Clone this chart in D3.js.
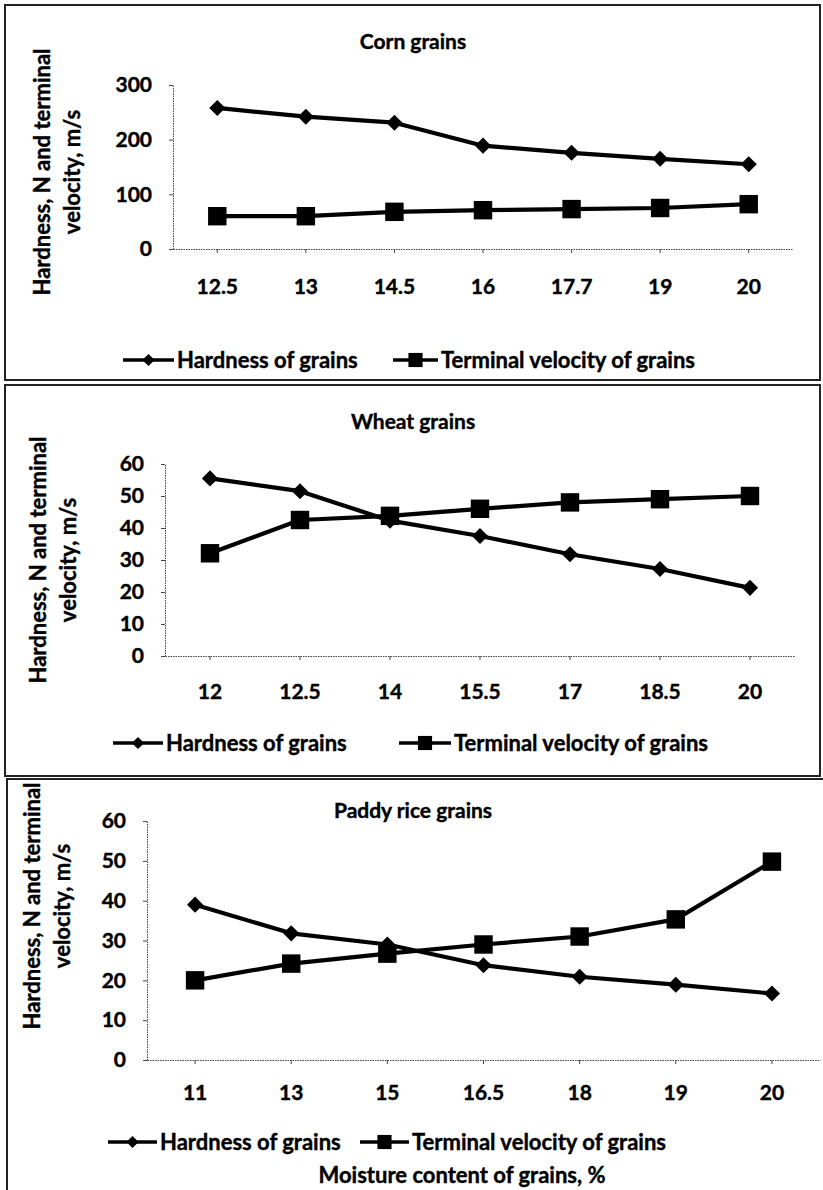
<!DOCTYPE html>
<html>
<head>
<meta charset="utf-8">
<script src="https://cdn.jsdelivr.net/npm/d3@7"></script>
<style>
  body { margin: 0; background: #fff; }
  text { font-family: Lato, "Open Sans", sans-serif; font-weight: bold; fill: #000; stroke: #000; stroke-width: 0.4px; }
</style>
</head>
<body>
<svg id="chart" width="823" height="1190"></svg>
<script>
// moisture content (x categories) and the two series of each crop
var cornMoisture = ["12.5", "13", "14.5", "16", "17.7", "19", "20"];
var cornHardness = [258, 242, 231, 189, 176, 165, 155];
var cornVelocity = [60, 60, 68, 71, 73, 75, 82];
var cornTicks = [0, 100, 200, 300];

var wheatMoisture = ["12", "12.5", "14", "15.5", "17", "18.5", "20"];
var wheatHardness = [55.5, 51.5, 42.3, 37.5, 31.8, 27.2, 21.3];
var wheatVelocity = [32.1, 42.5, 43.8, 46, 48, 49, 50];
var wheatTicks = [0, 10, 20, 30, 40, 50, 60];

var riceMoisture = ["11", "13", "15", "16.5", "18", "19", "20"];
var riceHardness = [39, 31.8, 29, 23.8, 20.9, 18.9, 16.7];
var riceVelocity = [20, 24.2, 26.7, 29, 31, 35.3, 49.8];
var riceTicks = [0, 10, 20, 30, 40, 50, 60];

var seriesNames = ["Hardness of grains", "Terminal velocity of grains"];
var yTitleLines = ["Hardness, N and terminal", "velocity, m/s"];

var svg = d3.select("#chart");

var panels = [
  { title: "Corn grains", cats: cornMoisture, hard: cornHardness, vel: cornVelocity, ticks: cornTicks,
    box: [5, 5, 815, 375], titleY: 49, left: 173, right: 793, top: 85, bottom: 249, xPad: 26,
    legendY: 360, leg: [123, 174, 393, 438], yTitle: [42, 72, 172] },
  { title: "Wheat grains", cats: wheatMoisture, hard: wheatHardness, vel: wheatVelocity, ticks: wheatTicks,
    box: [5, 385, 815, 391], titleY: 429, left: 165, right: 795, top: 464, bottom: 656, xPad: 24,
    legendY: 743, leg: [113, 163, 399, 451], yTitle: [38, 68, 560] },
  { title: "Paddy rice grains", cats: riceMoisture, hard: riceHardness, vel: riceVelocity, ticks: riceTicks,
    box: [7, 779, 830, 430], titleY: 818, left: 147, right: 820, top: 821, bottom: 1060, xPad: 21,
    legendY: 1142, leg: [108, 157, 360, 409], yTitle: [32, 62, 906],
    xTitle: "Moisture content of grains, %", xTitlePos: [462, 1175] }
];

var diamond = d3.symbol().type(d3.symbolSquare);
var square = d3.symbol().type(d3.symbolSquare);

function drawMarker(g, kind, cx, cy, big) {
  if (kind === 0) {
    g.append("path")
      .attr("d", diamond.size(big ? 130 : 75)())
      .attr("transform", "translate(" + cx + "," + cy + ") rotate(45)")
      .attr("fill", "#000");
  } else {
    g.append("path")
      .attr("d", square.size(big ? 340 : 200)())
      .attr("transform", "translate(" + cx + "," + cy + ")")
      .attr("fill", "#000");
  }
}

function drawPanel(p) {
  var g = svg.append("g");

  g.append("rect")
    .attr("x", p.box[0]).attr("y", p.box[1])
    .attr("width", p.box[2]).attr("height", p.box[3])
    .attr("fill", "none").attr("stroke", "#222").attr("stroke-width", 2);

  g.append("text")
    .attr("x", 413).attr("y", p.titleY)
    .attr("text-anchor", "middle")
    .style("font-size", "21px")
    .text(p.title);

  var x = d3.scaleBand().domain(p.cats).range([p.left, p.right]);
  var y = d3.scaleLinear().domain([0, d3.max(p.ticks)]).range([p.bottom, p.top]);
  var cx = function(c) { return x(c) + x.bandwidth() / 2; };

  var yAxis = g.append("g")
    .attr("transform", "translate(" + p.left + ",0)")
    .call(d3.axisLeft(y).tickValues(p.ticks).tickSize(4).tickSizeOuter(0).tickPadding(17));
  var xAxis = g.append("g")
    .attr("transform", "translate(0," + p.bottom + ")")
    .call(d3.axisBottom(x).tickSize(4).tickSizeOuter(0).tickPadding(p.xPad));

  [yAxis, xAxis].forEach(function(a) {
    a.select(".domain").attr("stroke", "#444").attr("stroke-width", 1).attr("stroke-dasharray", "1.5,1");
    a.selectAll(".tick line").attr("stroke", "#444");
    a.selectAll(".tick text").attr("fill", "#000").attr("stroke", "#000").attr("stroke-width", 0.4)
      .style("font-size", "21px").style("font-family", "Lato, 'Open Sans', sans-serif").style("font-weight", "bold");
  });

  var line = d3.line()
    .x(function(d, i) { return cx(p.cats[i]); })
    .y(function(d) { return y(d); });

  [p.hard, p.vel].forEach(function(vals, k) {
    g.append("path")
      .datum(vals)
      .attr("d", line)
      .attr("fill", "none")
      .attr("stroke", "#000")
      .attr("stroke-width", 4.2)
      .attr("stroke-linejoin", "round");
    vals.forEach(function(v, i) {
      drawMarker(g, k, cx(p.cats[i]), y(v), true);
    });
  });

  // legend
  [0, 1].forEach(function(k) {
    var x1 = p.leg[k * 2], x2 = p.leg[k * 2 + 1];
    g.append("line")
      .attr("x1", x1).attr("x2", x2)
      .attr("y1", p.legendY).attr("y2", p.legendY)
      .attr("stroke", "#000").attr("stroke-width", 3.5);
    drawMarker(g, k, (x1 + x2) / 2, p.legendY, false);
    g.append("text")
      .attr("x", x2 + 3).attr("y", p.legendY)
      .attr("dy", "0.35em")
      .style("font-size", "22px")
      .text(seriesNames[k]);
  });

  // y axis title, two lines
  yTitleLines.forEach(function(t, i) {
    g.append("text")
      .attr("transform", "translate(" + p.yTitle[i] + "," + p.yTitle[2] + ") rotate(-90)")
      .attr("text-anchor", "middle")
      .attr("dy", "0.35em")
      .style("font-size", "22px")
      .text(t);
  });

  if (p.xTitle) {
    g.append("text")
      .attr("x", p.xTitlePos[0]).attr("y", p.xTitlePos[1])
      .attr("text-anchor", "middle")
      .attr("dy", "0.35em")
      .style("font-size", "22px")
      .text(p.xTitle);
  }
}

panels.forEach(drawPanel);
</script>
</body>
</html>
